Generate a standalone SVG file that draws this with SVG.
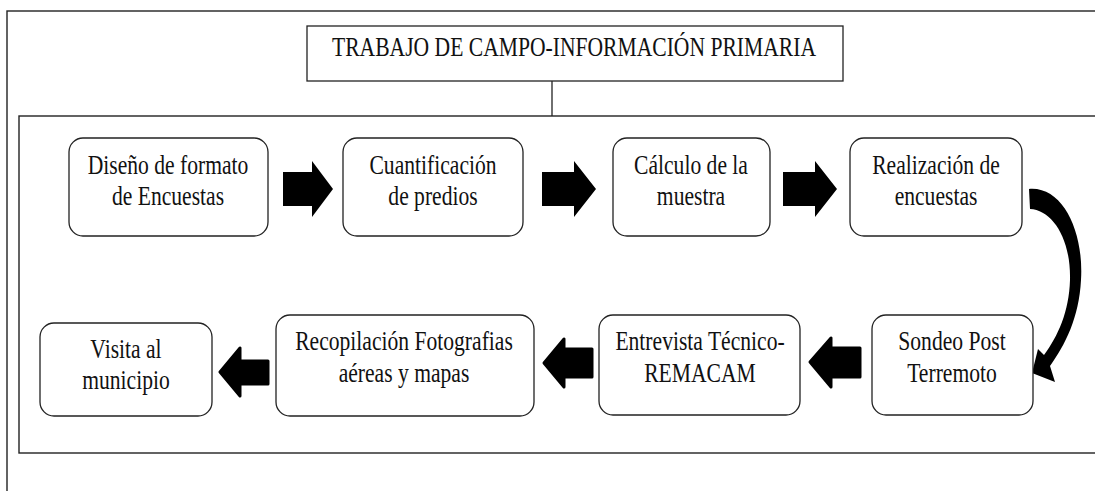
<svg xmlns="http://www.w3.org/2000/svg" width="1095" height="491" viewBox="0 0 1095 491">
<style>
.frame{fill:none;stroke:#222;stroke-width:1.4}
.box{fill:#fff;stroke:#222;stroke-width:1.3}
.t{font-family:"Liberation Serif","Times New Roman",serif;font-size:27px;fill:#111;text-anchor:middle}
.arr{fill:#000}
.arr2{fill:#000;stroke:#000;stroke-width:3;stroke-linejoin:round}
.line{stroke:#222;stroke-width:1.3;fill:none}
</style>
<rect width="1095" height="491" fill="#fff"/>
<rect class="frame" x="7" y="11" width="1100" height="500"/>
<rect class="frame" x="19" y="116" width="1090" height="337"/>

<g id="title">
<rect class="box" x="307" y="26" width="536" height="55"/>
<text class="t" transform="translate(574,56) scale(0.8,1)">TRABAJO DE CAMPO-INFORMACIÓN PRIMARIA</text>
</g>

<g id="connectors">
<line class="line" x1="552" y1="81" x2="552" y2="116"/>
<polygon class="arr" points="283,172 312,172 312,161 333,189 312,217 312,206 283,206"/>
<polygon class="arr" points="542,172 574,172 574,161 596,189 574,217 574,206 542,206"/>
<polygon class="arr" points="783,172 815,172 815,161 837,189 815,217 815,206 783,206"/>
<path class="arr" d="M1029 189 C1063 186 1084 232 1081 280 C1079 318 1065 345 1050 366 L1055 382 L1032 373 L1038 349 L1044 355 C1058 336 1069 312 1070 280 C1071 238 1052 210 1030 209 Z"/>
<polygon class="arr2" points="860,348 860,377 831,377 831,387 810,362 831,338 831,348"/>
<polygon class="arr2" points="592,349 592,377 564,377 564,387 544,363 564,339 564,349"/>
<polygon class="arr2" points="268,361 268,384 240,384 240,396 220,372 240,348 240,361"/>
</g>

<g id="n1">
<rect class="box" x="69" y="138" width="199" height="98" rx="14"/>
<text class="t" transform="translate(168,174) scale(0.8,1)">Diseño de formato</text>
<text class="t" transform="translate(168,205) scale(0.8,1)">de Encuestas</text>
</g>
<g id="n2">
<rect class="box" x="343" y="138" width="180" height="98" rx="14"/>
<text class="t" transform="translate(433,174) scale(0.8,1)">Cuantificación</text>
<text class="t" transform="translate(433,205) scale(0.8,1)">de predios</text>
</g>
<g id="n3">
<rect class="box" x="613" y="138" width="157" height="98" rx="14"/>
<text class="t" transform="translate(691,174) scale(0.8,1)">Cálculo de la</text>
<text class="t" transform="translate(691,205) scale(0.8,1)">muestra</text>
</g>
<g id="n4">
<rect class="box" x="850" y="138" width="172" height="98" rx="14"/>
<text class="t" transform="translate(936,174) scale(0.8,1)">Realización de</text>
<text class="t" transform="translate(936,205) scale(0.8,1)">encuestas</text>
</g>
<g id="n5">
<rect class="box" x="872" y="315" width="161" height="100" rx="14"/>
<text class="t" transform="translate(952,350) scale(0.8,1)">Sondeo Post</text>
<text class="t" transform="translate(952,382) scale(0.8,1)">Terremoto</text>
</g>
<g id="n6">
<rect class="box" x="599" y="315" width="201" height="100" rx="14"/>
<text class="t" transform="translate(700,350) scale(0.8,1)">Entrevista Técnico-</text>
<text class="t" transform="translate(700,382) scale(0.8,1)">REMACAM</text>
</g>
<g id="n7">
<rect class="box" x="276" y="315" width="258" height="101" rx="14"/>
<text class="t" transform="translate(404,350) scale(0.8,1)">Recopilación Fotografias</text>
<text class="t" transform="translate(404,382) scale(0.8,1)">aéreas y mapas</text>
</g>
<g id="n8">
<rect class="box" x="40" y="323" width="172" height="93" rx="14"/>
<text class="t" transform="translate(126,358) scale(0.8,1)">Visita al</text>
<text class="t" transform="translate(126,389) scale(0.8,1)">municipio</text>
</g>
</svg>
